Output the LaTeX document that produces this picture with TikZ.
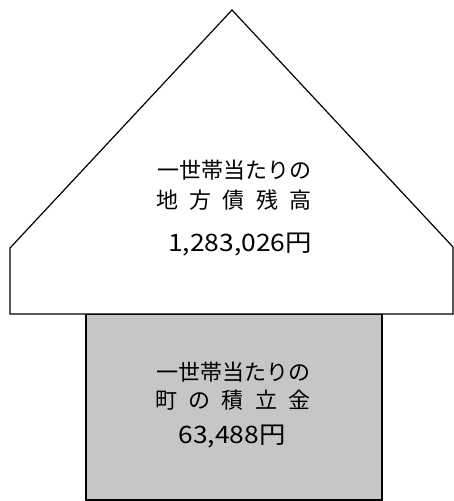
\documentclass[tikz,border=0pt]{standalone}
\usepackage{fontspec}
\setmainfont{Noto Sans CJK JP}
\definecolor{fundgray}{HTML}{C6C6C6}
\tikzset{
  caption text/.style={font=\fontsize{22}{26}\selectfont, inner sep=0pt},
  amount text/.style={font=\fontsize{24}{28}\selectfont, inner sep=0pt},
  outline/.style={line width=1.2pt, line join=miter}
}
\newcommand{\wideamount}[1]{\scalebox{1.1}[1]{#1}}

\begin{document}
\begin{tikzpicture}[x=1pt, y=-1pt]
  \useasboundingbox (0,0) rectangle (454,501);
  % fund box below
  \draw[outline, fill=fundgray] (86,314) coordinate(fundtl) rectangle (382,500) coordinate(fundbr);
  % house of debt
  \draw[outline, fill=white] (10,314) coordinate(housebl) -- (10,248) coordinate(leftcorner)
      -- (232,10) coordinate(apex) -- (453,247) coordinate(rightcorner) -- (453,314) coordinate(housebr) -- cycle;
  \node[caption text] (debtline) at (234,170) {一世帯当たりの};
  \node[caption text] (debtname) at (234,200) {\hbox to 155pt{地\hfill 方\hfill 債\hfill 残\hfill 高}};
  \node[amount text, anchor=east] (debtamount) at (312,245) {\wideamount{1,283,026円}};
  \node[caption text] (fundline) at (233,372) {一世帯当たりの};
  \node[caption text] (fundname) at (233,400) {\hbox to 155pt{町\hfill の\hfill 積\hfill 立\hfill 金}};
  \node[amount text] (fundamount) at (232,437) {\wideamount{63,488円}};
\end{tikzpicture}
\end{document}
